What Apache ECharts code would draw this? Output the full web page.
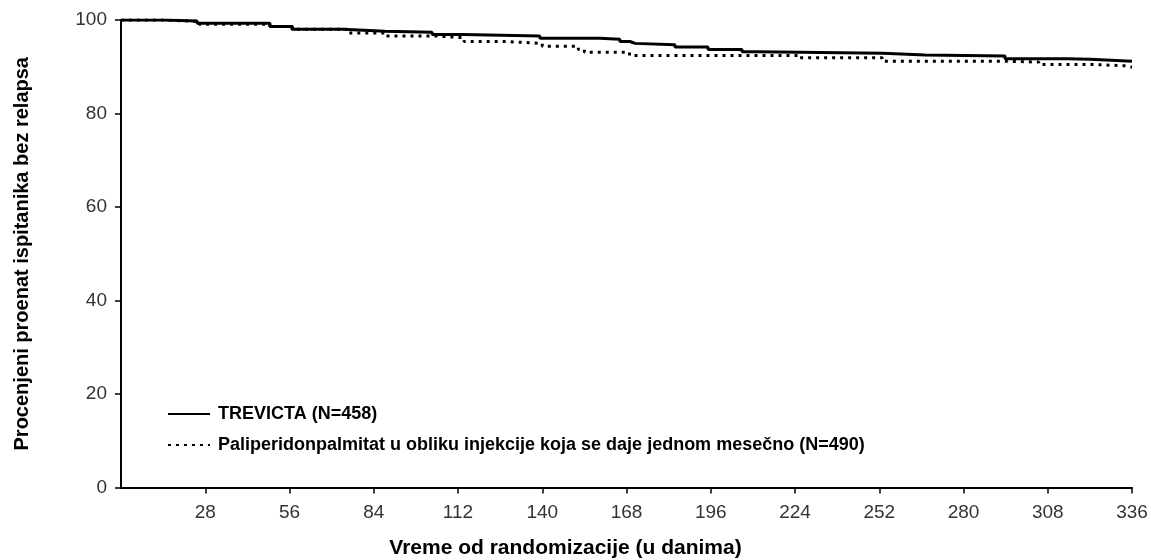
<!DOCTYPE html>
<html>
<head>
<meta charset="utf-8">
<script src="https://cdn.jsdelivr.net/npm/echarts@6/dist/echarts.min.js"></script>
<style>
html,body{margin:0;padding:0;background:#fff;}
#chart{width:1151px;height:560px;}
</style>
</head>
<body>
<div id="chart"></div>
<script>
// ---- data ----
const xTicks = [28, 56, 84, 112, 140, 168, 196, 224, 252, 280, 308, 336];
const yTicks = [0, 20, 40, 60, 80, 100];

const trevictaName = "TREVICTA (N=458)";
const trevictaDays = [0, 14, 25.3, 49.5, 56.8, 73.8, 87.7, 103.4, 113.7, 139.2, 159.2, 165.8, 169.2, 170.8, 184.1, 195.1, 206.4, 211.7, 253.2, 267.2, 293.8, 314.4, 322.0, 336];
const trevictaSurv = [100, 99.8, 99.3, 98.6, 98.0, 97.6, 97.4, 96.9, 96.6, 96.1, 95.9, 95.4, 95.0, 94.7, 94.2, 93.7, 93.2, 92.9, 92.5, 92.3, 91.7, 91.6, 91.2, 91.2];

const ppName = "Paliperidonpalmitat u obliku injekcije koja se daje jednom mesečno (N=490)";
const ppDays = [0, 14, 26, 49.5, 57, 75, 88, 104, 114, 128, 140, 152, 154, 169, 225, 253, 293, 305, 322, 334, 336];
const ppSurv = [100, 99.7, 99.1, 98.6, 98.0, 97.2, 96.6, 96.2, 95.4, 95.0, 94.4, 93.7, 93.1, 92.4, 91.9, 91.2, 91.0, 90.5, 90.2, 89.9, 89.9];

const xTitle = "Vreme od randomizacije (u danima)";
const yTitle = "Procenjeni proenat ispitanika bez relapsa";

// ---- chart ----
const zip = (a, b) => a.map((v, i) => [v, b[i]]);
const font = "'Liberation Sans', Arial, sans-serif";
const chart = echarts.init(document.getElementById('chart'), null, {renderer: 'canvas'});
chart.setOption({
  animation: false,
  backgroundColor: '#fff',
  grid: {left: 121, right: 19, top: 20, bottom: 72.5, containLabel: false, outerBoundsMode: 'none'},
  legend: {
    orient: 'vertical',
    left: 162,
    top: 399,
    itemWidth: 42,
    itemHeight: 20,
    itemGap: 11,
    data: [trevictaName, ppName],
    itemStyle: {opacity: 0},
    textStyle: {fontFamily: font, fontWeight: 'bold', fontSize: 18, color: '#000', lineHeight: 20, padding: [0, 0, 0, 3]}
  },
  xAxis: {
    type: 'value',
    min: 0, max: 336, interval: 28,
    name: xTitle,
    nameLocation: 'middle',
    nameGap: 50,
    nameTextStyle: {fontFamily: font, fontWeight: 'bold', fontSize: 21, color: '#000', padding: [0, 122, 0, 0]},
    axisLine: {show: true, onZero: false, lineStyle: {color: '#000', width: 2}},
    axisTick: {show: true, length: 6, customValues: xTicks, lineStyle: {color: '#000', width: 1.5}},
    axisLabel: {customValues: xTicks, margin: 16, fontFamily: font, fontSize: 19, color: '#333'},
    splitLine: {show: false}
  },
  yAxis: {
    type: 'value',
    min: 0, max: 100, interval: 20,
    name: yTitle,
    nameLocation: 'middle',
    nameGap: 89,
    nameTextStyle: {fontFamily: font, fontWeight: 'bold', fontSize: 20, color: '#000'},
    axisLine: {show: true, lineStyle: {color: '#000', width: 2}},
    axisTick: {show: true, length: 6, customValues: yTicks, lineStyle: {color: '#000', width: 1.5}},
    axisLabel: {customValues: yTicks, margin: 14, fontFamily: font, fontSize: 19, color: '#333'},
    splitLine: {show: false}
  },
  series: [
    {
      name: trevictaName,
      type: 'line',
      step: 'end',
      symbol: 'none',
      data: zip(trevictaDays, trevictaSurv),
      lineStyle: {color: '#000', width: 3},
      itemStyle: {color: '#000'},
      z: 3
    },
    {
      name: ppName,
      type: 'line',
      step: 'end',
      symbol: 'none',
      data: zip(ppDays, ppSurv),
      lineStyle: {color: '#000', width: 3, type: [3, 5]},
      itemStyle: {color: '#000'},
      z: 2
    }
  ]
});
</script>
</body>
</html>
